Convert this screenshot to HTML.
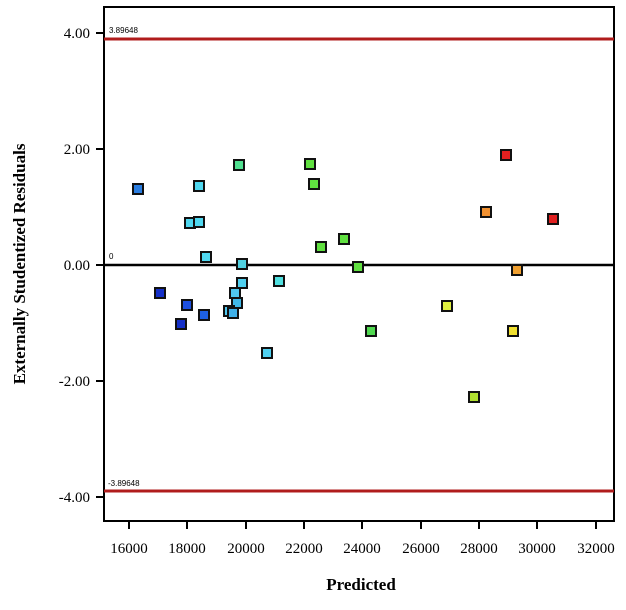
<!DOCTYPE html>
<html><head><style>body{margin:0;background:#fff}</style></head><body>
<svg width="626" height="605" xmlns="http://www.w3.org/2000/svg" font-family="Liberation Serif, serif">
<rect x="104" y="7" width="510" height="514" fill="#fff" stroke="#000" stroke-width="2"/>
<line x1="104" y1="39" x2="614" y2="39" stroke="#b01c1c" stroke-width="3"/>
<line x1="104" y1="491" x2="614" y2="491" stroke="#b01c1c" stroke-width="3"/>
<line x1="104" y1="265" x2="614" y2="265" stroke="#000" stroke-width="2.5"/>
<g font-family="Liberation Sans, sans-serif" font-size="8" fill="#000">
<text x="109" y="33">3.89648</text><text x="108" y="486">-3.89648</text><text x="109" y="259">0</text></g>
<g stroke="#000" stroke-width="2">
<line x1="96" y1="33" x2="104" y2="33"/><line x1="96" y1="149" x2="104" y2="149"/><line x1="96" y1="265" x2="104" y2="265"/><line x1="96" y1="381" x2="104" y2="381"/><line x1="96" y1="497" x2="104" y2="497"/>
<line x1="129" y1="521" x2="129" y2="529"/><line x1="187" y1="521" x2="187" y2="529"/><line x1="246" y1="521" x2="246" y2="529"/><line x1="304" y1="521" x2="304" y2="529"/><line x1="362" y1="521" x2="362" y2="529"/><line x1="421" y1="521" x2="421" y2="529"/><line x1="479" y1="521" x2="479" y2="529"/><line x1="537" y1="521" x2="537" y2="529"/><line x1="596" y1="521" x2="596" y2="529"/>
</g>
<g font-size="15" text-anchor="end"><text x="90" y="38">4.00</text><text x="90" y="154">2.00</text><text x="90" y="270">0.00</text><text x="90" y="386">-2.00</text><text x="90" y="502">-4.00</text></g>
<g font-size="15" text-anchor="middle"><text x="129" y="553">16000</text><text x="187" y="553">18000</text><text x="246" y="553">20000</text><text x="304" y="553">22000</text><text x="362" y="553">24000</text><text x="421" y="553">26000</text><text x="479" y="553">28000</text><text x="537" y="553">30000</text><text x="596" y="553">32000</text></g>
<text x="361" y="590" font-size="17" font-weight="bold" text-anchor="middle">Predicted</text>
<text transform="translate(25,264) rotate(-90)" font-size="17" font-weight="bold" text-anchor="middle">Externally Studentized Residuals</text>
<g stroke="#111" stroke-width="2">
<rect x="133" y="184" width="10" height="10" fill="#2a7de0"/>
<rect x="155" y="288" width="10" height="10" fill="#1530c8"/>
<rect x="176" y="319" width="10" height="10" fill="#1530c8"/>
<rect x="182" y="300" width="10" height="10" fill="#1e50e0"/>
<rect x="199" y="310" width="10" height="10" fill="#1e60e0"/>
<rect x="185" y="218" width="10" height="10" fill="#50d8f0"/>
<rect x="194" y="217" width="10" height="10" fill="#50d8f0"/>
<rect x="194" y="181" width="10" height="10" fill="#50d8f0"/>
<rect x="201" y="252" width="10" height="10" fill="#50d8f0"/>
<rect x="234" y="160" width="10" height="10" fill="#50e090"/>
<rect x="237" y="259" width="10" height="10" fill="#50d0e0"/>
<rect x="237" y="278" width="10" height="10" fill="#50d0f0"/>
<rect x="230" y="288" width="10" height="10" fill="#50c8f0"/>
<rect x="232" y="298" width="10" height="10" fill="#40b8e8"/>
<rect x="224" y="306" width="10" height="10" fill="#50c8f0"/>
<rect x="228" y="308" width="10" height="10" fill="#40b0e8"/>
<rect x="262" y="348" width="10" height="10" fill="#50d0f0"/>
<rect x="274" y="276" width="10" height="10" fill="#50e0e0"/>
<rect x="305" y="159" width="10" height="10" fill="#60e040"/>
<rect x="309" y="179" width="10" height="10" fill="#60e040"/>
<rect x="316" y="242" width="10" height="10" fill="#60e040"/>
<rect x="339" y="234" width="10" height="10" fill="#60e040"/>
<rect x="353" y="262" width="10" height="10" fill="#60e040"/>
<rect x="366" y="326" width="10" height="10" fill="#50d850"/>
<rect x="442" y="301" width="10" height="10" fill="#e0f040"/>
<rect x="469" y="392" width="10" height="10" fill="#b0e030"/>
<rect x="481" y="207" width="10" height="10" fill="#f09030"/>
<rect x="501" y="150" width="10" height="10" fill="#e02020"/>
<rect x="508" y="326" width="10" height="10" fill="#f0e030"/>
<rect x="512" y="265" width="10" height="10" fill="#f0a030"/>
<rect x="548" y="214" width="10" height="10" fill="#e02020"/>
</g>
</svg>
</body></html>
